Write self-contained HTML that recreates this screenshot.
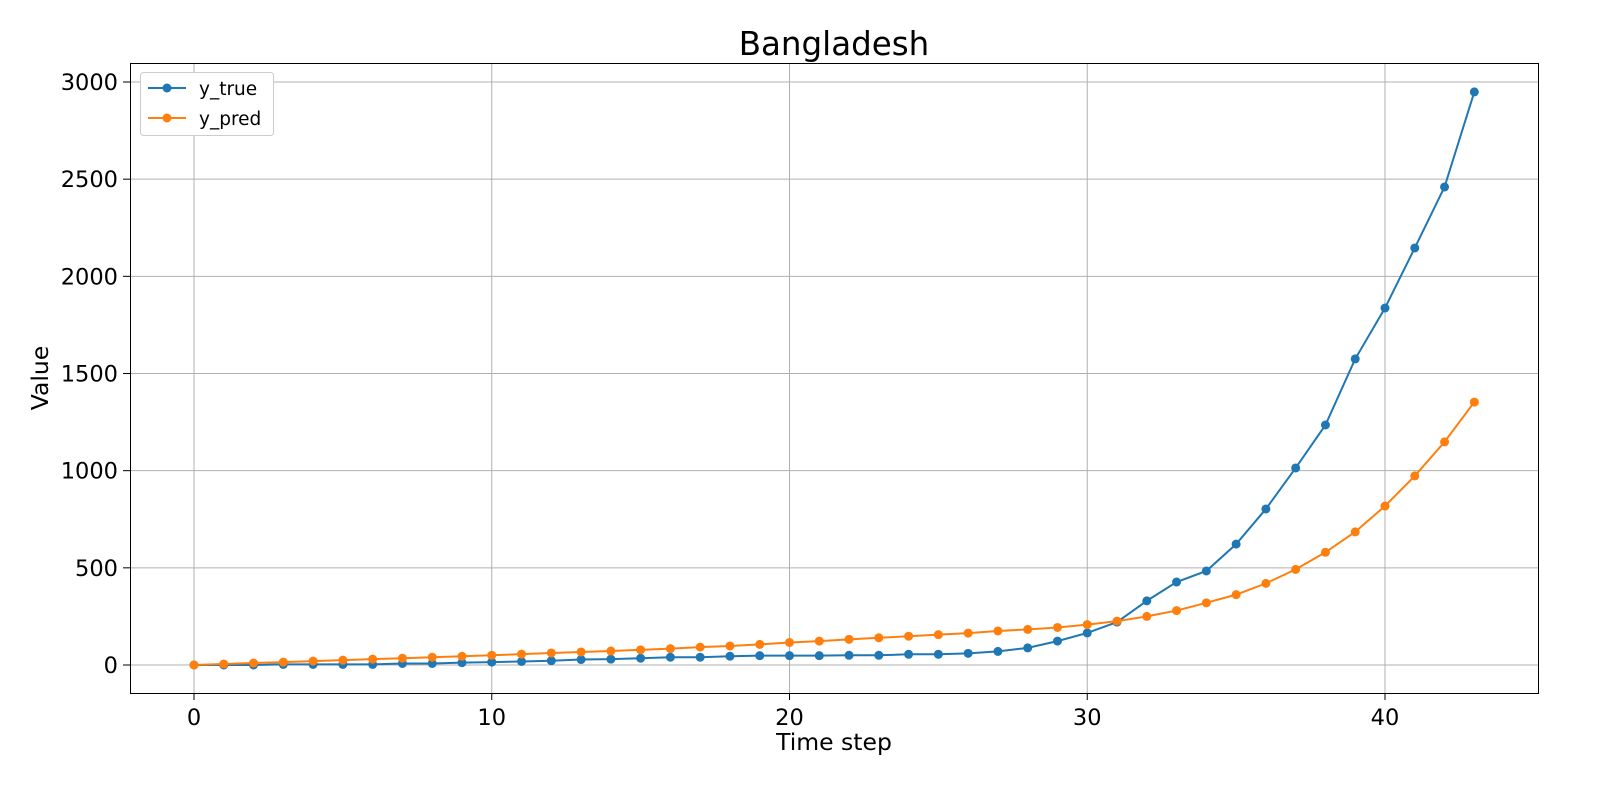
<!DOCTYPE html>
<html><head><meta charset="utf-8"><style>
body{margin:0;background:#fff;}
svg{display:block;font-family:"DejaVu Sans","Liberation Sans",sans-serif;}
</style></head><body>
<svg id="chart" width="1600" height="800" viewBox="0 0 1600 800" xmlns="http://www.w3.org/2000/svg">
<rect width="1600" height="800" fill="#fff"/>
<g id="grid"></g>
<g id="series"></g>
<rect x="130.5" y="63.5" width="1408" height="630" fill="none" stroke="#000" stroke-width="1"/>
<g id="ticks"></g>
<text x="834" y="55" font-size="32.5" text-anchor="middle">Bangladesh</text>
<text x="834" y="750" font-size="23.5" text-anchor="middle">Time step</text>
<text transform="translate(48,378) rotate(-90)" font-size="23.5" text-anchor="middle">Value</text>
<g>
<rect x="140.5" y="72.5" width="133" height="63" rx="3" fill="#fff" stroke="#ccc"/>
<g>
<line x1="148" y1="88" x2="186" y2="88" stroke="#1f77b4" stroke-width="2"/><circle cx="167" cy="88" r="4.5" fill="#1f77b4"/>
<text x="199" y="95" font-size="18.5">y_true</text></g>
<g>
<line x1="148" y1="118" x2="186" y2="118" stroke="#ff7f0e" stroke-width="2"/><circle cx="167" cy="118" r="4.5" fill="#ff7f0e"/>
<text x="199" y="125" font-size="18.5">y_pred</text></g>
</g>
</svg>
<script>
const xTicks=[0,10,20,30,40];
const yTicks=[0,500,1000,1500,2000,2500,3000];
const yTrue=[0,0,0,3,3,3,3,8,8,12,15,18,22,28,30,35,40,40,45,48,48,48,50,50,55,55,60,70,88,123,165,221,330,427,484,622,803,1014,1235,1575,1837,2146,2460,2949];
const yPred=[0,5,10,15,20,25,30,35,40,45,50,56,62,67,72,78,84,92,98,106,116,123,132,140,148,156,164,175,183,193,208,226,250,280,320,362,420,492,580,685,818,973,1148,1353];
const NS="http://www.w3.org/2000/svg";
const X=v=>194+v*(1385-194)/40;
const Y=v=>665-v*(665-82)/3000;
function mk(t,a,p){const e=document.createElementNS(NS,t);for(const k in a)e.setAttribute(k,a[k]);p.appendChild(e);return e;}
const grid=document.getElementById('grid'),ticks=document.getElementById('ticks'),ser=document.getElementById('series');
xTicks.forEach(t=>{
 const g=mk('line',{x1:X(t),x2:X(t),y1:63,y2:693,stroke:'#b0b0b0','stroke-width':1},grid);
 
 
 mk('line',{x1:X(t),x2:X(t),y1:693,y2:700,stroke:'#000'},ticks);
 const l=mk('text',{x:X(t),y:725,'font-size':22.5,'text-anchor':'middle'},ticks);l.textContent=t;
 
 
});
yTicks.forEach(t=>{
 const g=mk('line',{x1:130,x2:1538,y1:Y(t),y2:Y(t),stroke:'#b0b0b0','stroke-width':1},grid);
 
 
 mk('line',{x1:123,x2:130,y1:Y(t),y2:Y(t),stroke:'#000'},ticks);
 const l=mk('text',{x:118,y:Y(t)+8,'font-size':22.5,'text-anchor':'end'},ticks);l.textContent=t;
 
 
});
function draw(data,color,name){
 const pl=mk('polyline',{points:data.map((v,i)=>X(i)+','+Y(v)).join(' '),fill:'none',stroke:color,'stroke-width':2},ser);
 
 
 data.forEach((v,i)=>{const c=mk('circle',{cx:X(i),cy:Y(v),r:4.5,fill:color},ser);
  
  });
}
draw(yTrue,'#1f77b4','y-true');
draw(yPred,'#ff7f0e','y-pred');
</script>
</body></html>
